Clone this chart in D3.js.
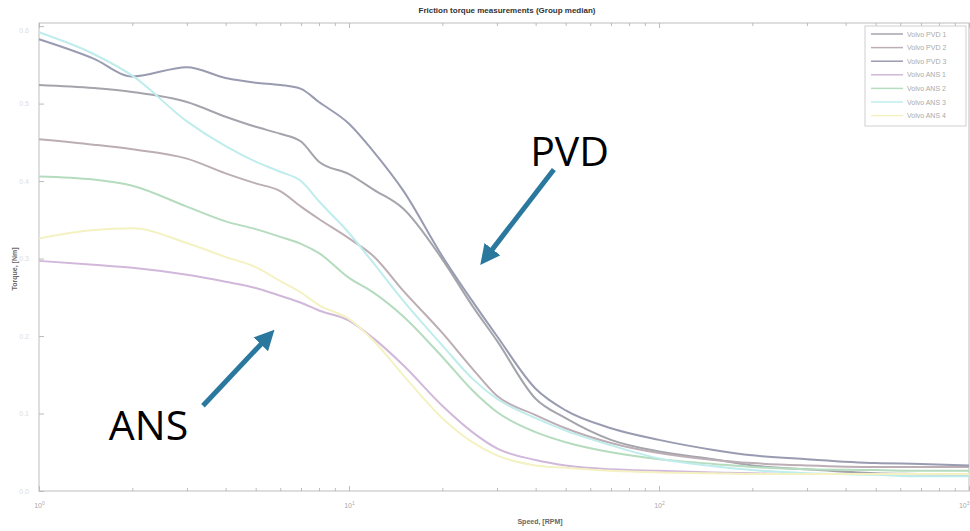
<!DOCTYPE html>
<html>
<head>
<meta charset="utf-8">
<script src="https://cdn.jsdelivr.net/npm/d3@7"></script>
<style>
  body { margin: 0; background: #fff; }
  svg { display: block; font-family: "Liberation Sans", Arial, sans-serif; }
</style>
</head>
<body>
<svg id="chart" width="970" height="531"></svg>
<script>
// speeds [RPM] shared by all series
const speeds = [1, 1.5, 2, 3, 4, 5, 6, 7, 8, 10, 12, 15, 20, 25, 30, 40, 50, 70, 100, 150, 200, 300, 500, 700, 1000];

// torque [Nm], group median per series
const pvd1 = [0.524, 0.520, 0.515, 0.502, 0.483, 0.470, 0.461, 0.451, 0.425, 0.409, 0.389, 0.364, 0.299, 0.239, 0.194, 0.119, 0.094, 0.066, 0.051, 0.041, 0.033, 0.028, 0.023, 0.022, 0.021];
const pvd2 = [0.454, 0.447, 0.441, 0.429, 0.410, 0.397, 0.387, 0.367, 0.351, 0.326, 0.303, 0.258, 0.204, 0.158, 0.123, 0.098, 0.081, 0.062, 0.049, 0.040, 0.036, 0.033, 0.031, 0.031, 0.031];
const pvd3 = [0.583, 0.558, 0.535, 0.547, 0.533, 0.527, 0.524, 0.519, 0.502, 0.474, 0.438, 0.387, 0.303, 0.245, 0.200, 0.132, 0.104, 0.081, 0.066, 0.053, 0.046, 0.041, 0.036, 0.035, 0.033];
const ans1 = [0.297, 0.292, 0.288, 0.279, 0.270, 0.262, 0.252, 0.243, 0.233, 0.220, 0.197, 0.162, 0.110, 0.076, 0.055, 0.040, 0.033, 0.028, 0.026, 0.024, 0.023, 0.022, 0.022, 0.021, 0.021];
const ans2 = [0.406, 0.402, 0.394, 0.367, 0.348, 0.338, 0.328, 0.319, 0.307, 0.275, 0.256, 0.225, 0.173, 0.130, 0.102, 0.076, 0.063, 0.050, 0.041, 0.035, 0.031, 0.028, 0.027, 0.026, 0.026];
const ans3 = [0.592, 0.564, 0.536, 0.477, 0.445, 0.425, 0.412, 0.400, 0.374, 0.333, 0.294, 0.245, 0.188, 0.145, 0.119, 0.094, 0.078, 0.059, 0.042, 0.032, 0.027, 0.023, 0.021, 0.019, 0.019];
const ans4 = [0.326, 0.337, 0.339, 0.320, 0.302, 0.289, 0.271, 0.256, 0.240, 0.222, 0.194, 0.149, 0.094, 0.063, 0.046, 0.033, 0.030, 0.026, 0.024, 0.023, 0.022, 0.022, 0.022, 0.022, 0.022];

const seriesNames = ['Volvo PVD 1', 'Volvo PVD 2', 'Volvo PVD 3', 'Volvo ANS 1', 'Volvo ANS 2', 'Volvo ANS 3', 'Volvo ANS 4'];
const seriesValues = [pvd1, pvd2, pvd3, ans1, ans2, ans3, ans4];
const seriesColors = ['#a4a4ac', '#bcaeb5', '#999bb1', '#d1b8da', '#b5dcbe', '#bfecec', '#f4f2c2'];

const xMajor = [1, 10, 100, 1000];
const yTicks = [0, 0.1, 0.2, 0.3, 0.4, 0.5, 0.6];

const svg = d3.select('#chart');

var padLeft = 39,
    padRight = 969,
    padTop = 23,
    padBottom = 491;

var x = d3.scaleLog().domain([1, 1000]).range([padLeft, padRight]);
var y = d3.scaleLinear().domain([0, 0.604]).range([padBottom, padTop]);

// frame
svg.append('rect')
    .attr('x', padLeft).attr('y', padTop)
    .attr('width', padRight - padLeft).attr('height', padBottom - padTop)
    .attr('fill', 'none').attr('stroke', '#c8c8c8').attr('stroke-width', 1.2);

var minor = [];
for (let d = 1; d < 1000; d *= 10) {
    for (let k = 2; k < 10; k++) minor.push(d * k);
}

function styleAxis(g) {
    g.select('.domain').remove();
    g.selectAll('line').attr('stroke', '#bbb');
}

// bottom / top ticks (inside, matlab style)
svg.append('g').attr('transform', `translate(0,${padBottom})`)
    .call(d3.axisBottom(x).tickValues(minor).tickSize(-3).tickFormat(''))
    .call(styleAxis);
svg.append('g').attr('transform', `translate(0,${padTop})`)
    .call(d3.axisTop(x).tickValues(minor).tickSize(-3).tickFormat(''))
    .call(styleAxis);
svg.append('g').attr('transform', `translate(0,${padTop})`)
    .call(d3.axisTop(x).tickValues(xMajor).tickSize(-5).tickFormat(''))
    .call(styleAxis);

var xAxisGroup = svg.append('g').attr('transform', `translate(0,${padBottom})`)
    .call(d3.axisBottom(x).tickValues(xMajor).tickSize(-5).tickFormat(''))
    .call(styleAxis);

xAxisGroup.selectAll('.tick').each(function(d) {
    const t = d3.select(this).append('text')
        .attr('y', 17).attr('fill', '#aaa')
        .attr('font-size', 7).attr('text-anchor', d === 1000 ? 'end' : 'middle');
    t.append('tspan').text('10');
    t.append('tspan').attr('dy', -3).attr('font-size', 5).text(Math.round(Math.log10(d)));
});

var yAxisGroup = svg.append('g').attr('transform', `translate(${padLeft},0)`)
    .call(d3.axisLeft(y).tickValues(yTicks).tickSize(-5).tickFormat(d3.format('.1f')))
    .call(styleAxis);
yAxisGroup.selectAll('text')
    .attr('x', -10).attr('fill', '#ddd').attr('font-size', 7);
yAxisGroup.selectAll('.tick').filter(d => d === 0.6).select('text').attr('dy', '0.9em');

// lines
var line = d3.line()
    .x((d, i) => x(speeds[i]))
    .y(d => y(d))
    .curve(d3.curveMonotoneX);

svg.append('g').selectAll('path')
    .data(seriesValues)
    .enter()
    .append('path')
    .attr('d', line)
    .attr('fill', 'none')
    .attr('stroke', (d, i) => seriesColors[i])
    .attr('stroke-width', 2)
    .attr('stroke-linejoin', 'round');

// title and axis labels
svg.append('text')
    .attr('x', 507).attr('y', 13)
    .attr('text-anchor', 'middle').attr('font-size', 8).attr('font-weight', 'bold')
    .attr('fill', '#333')
    .text('Friction torque measurements (Group median)');

svg.append('text')
    .attr('x', 540).attr('y', 524)
    .attr('text-anchor', 'middle').attr('font-size', 7).attr('font-weight', 'bold')
    .attr('fill', '#666')
    .text('Speed, [RPM]');

svg.append('text')
    .attr('transform', `translate(17,${(padTop + padBottom) / 2 + 12}) rotate(-90)`)
    .attr('text-anchor', 'middle').attr('font-size', 7).attr('font-weight', 'bold')
    .attr('fill', '#666')
    .text('Torque, [Nm]');

// legend
var legend = svg.append('g').attr('transform', 'translate(865,26)');
legend.append('rect')
    .attr('width', 101).attr('height', 100)
    .attr('fill', '#fff').attr('stroke', '#d0d0d0');
seriesNames.forEach((name, i) => {
    const row = legend.append('g').attr('transform', `translate(0,${8 + i * 13.6})`);
    row.append('line').attr('x1', 6).attr('x2', 38)
        .attr('stroke', seriesColors[i]).attr('stroke-width', 1.5);
    row.append('text').attr('x', 42).attr('y', 2.5)
        .attr('font-size', 7).attr('fill', '#aaa').text(name);
});

// annotations
var defs = svg.append('defs');
defs.append('marker')
    .attr('id', 'head')
    .attr('viewBox', '0 0 10 10')
    .attr('refX', 2).attr('refY', 5)
    .attr('markerWidth', 4).attr('markerHeight', 4)
    .attr('orient', 'auto')
    .append('path').attr('d', 'M0,0 L10,5 L0,10 z').attr('fill', '#2b789f');

const arrows = [
    { from: [45.8, 0.415], to: [28.5, 0.308] },
    { from: [3.38, 0.110], to: [5.3, 0.193] }
];
const labels = [
    { text: 'PVD', at: [38.4, 0.419] },
    { text: 'ANS', at: [1.68, 0.066] }
];

svg.append('g').selectAll('line')
    .data(arrows)
    .enter()
    .append('line')
    .attr('x1', d => x(d.from[0])).attr('y1', d => y(d.from[1]))
    .attr('x2', d => x(d.to[0])).attr('y2', d => y(d.to[1]))
    .attr('stroke', '#2b789f').attr('stroke-width', 5)
    .attr('marker-end', 'url(#head)');

svg.append('g').selectAll('text')
    .data(labels)
    .enter()
    .append('text')
    .attr('x', d => x(d.at[0])).attr('y', d => y(d.at[1]))
    .attr('font-size', 41).attr('fill', '#000')
    .attr('font-family', '"Open Sans", "Liberation Sans", sans-serif')
    .text(d => d.text);
</script>
</body>
</html>
